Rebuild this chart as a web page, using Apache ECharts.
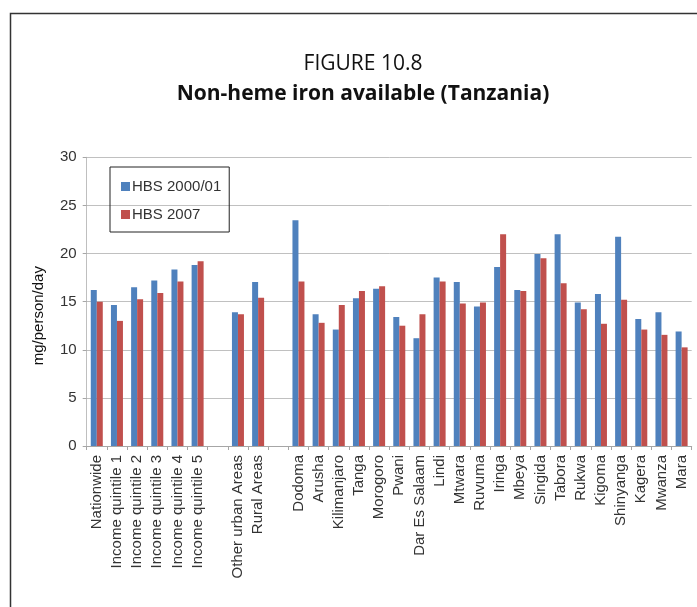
<!DOCTYPE html>
<html>
<head>
<meta charset="utf-8">
<script src="https://cdn.jsdelivr.net/npm/echarts@6/dist/echarts.min.js"></script>
<style>
html,body{margin:0;padding:0;background:#fff;}
#chart{width:697px;height:607px;}
</style>
</head>
<body>
<div id="chart"></div>
<script>
var categories = ["Nationwide","Income quintile 1","Income quintile 2","Income quintile 3","Income quintile 4","Income quintile 5","",
  "Other urban Areas","Rural Areas","",
  "Dodoma","Arusha","Kilimanjaro","Tanga","Morogoro","Pwani","Dar Es Salaam","Lindi","Mtwara","Ruvuma",
  "Iringa","Mbeya","Singida","Tabora","Rukwa","Kigoma","Shinyanga","Kagera","Mwanza","Mara"];
var hbs2000 = [16.2,14.65,16.5,17.2,18.35,18.8,null,
  13.9,17.05,null,
  23.45,13.7,12.1,15.35,16.35,13.4,11.2,17.5,17.05,14.5,
  18.6,16.2,19.95,22.0,14.9,15.8,21.75,13.2,13.9,11.9];
var hbs2007 = [15.0,13.0,15.25,15.9,17.1,19.2,null,
  13.7,15.4,null,
  17.1,12.8,14.65,16.1,16.6,12.5,13.7,17.1,14.8,14.9,
  22.0,16.1,19.5,16.9,14.2,12.7,15.2,12.1,11.55,10.25];
var seriesNames = ["HBS 2000/01","HBS 2007"];
var yTicks = {min:0, max:30, interval:5};

var chart = echarts.init(document.getElementById('chart'), null, {renderer:'canvas'});
chart.setOption({
  animation:false,
  backgroundColor:'#fff',
  graphic:[{
    type:'polyline',
    shape:{points:[[10.5,620],[10.5,13.5],[710,13.5]]},
    style:{stroke:'#333',lineWidth:1.5,fill:null},
    silent:true
  }],
  title:{
    text:'FIGURE 10.8',
    subtext:'Non-heme iron available (Tanzania)',
    left:358, textAlign:'center', top:49,
    itemGap:9,
    textStyle:{fontFamily:'Open Sans',fontSize:21,fontWeight:'normal',color:'#111'},
    subtextStyle:{fontFamily:'Open Sans',fontSize:21,fontWeight:'bold',color:'#111'}
  },
  legend:{
    orient:'vertical',
    left:110, top:167,
    padding:[12,8,10,11],
    itemWidth:9, itemHeight:9,
    itemGap:13,
    borderColor:'#222', borderWidth:1,
    icon:'rect',
    textStyle:{fontFamily:'Liberation Sans',fontSize:15,color:'#333',padding:[0,0,0,-3]},
    data:seriesNames
  },
  grid:{left:86.7, right:5.3, top:157.3, bottom:161, containLabel:false},
  xAxis:{
    type:'category',
    data:categories,
    axisLine:{lineStyle:{color:'#a6a6a6',width:1}},
    axisTick:{show:true,length:4,lineStyle:{color:'#a6a6a6'},interval:0},
    axisLabel:{interval:0,rotate:90,margin:9,fontFamily:'Liberation Sans',fontSize:15,color:'#333'}
  },
  yAxis:{
    type:'value',
    min:yTicks.min, max:yTicks.max, interval:yTicks.interval,
    name:'mg/person/day',
    nameLocation:'middle',
    nameGap:40,
    nameTextStyle:{fontFamily:'Liberation Sans',fontSize:15,color:'#111',padding:[0,28,0,0]},
    axisLine:{show:true,lineStyle:{color:'#bfbfbf'}},
    axisTick:{show:true,length:4,lineStyle:{color:'#a6a6a6'}},
    axisLabel:{fontFamily:'Liberation Sans',fontSize:15,color:'#333',margin:10},
    splitLine:{lineStyle:{color:'#c0c0c0',width:1}}
  },
  series:[
    {name:seriesNames[0],type:'bar',data:hbs2000,barWidth:6,barGap:'0%',
      itemStyle:{color:'#4F81BD'}},
    {name:seriesNames[1],type:'bar',data:hbs2007,barWidth:6,barGap:'0%',
      itemStyle:{color:'#C0504D'}}
  ]
});
</script>
</body>
</html>
